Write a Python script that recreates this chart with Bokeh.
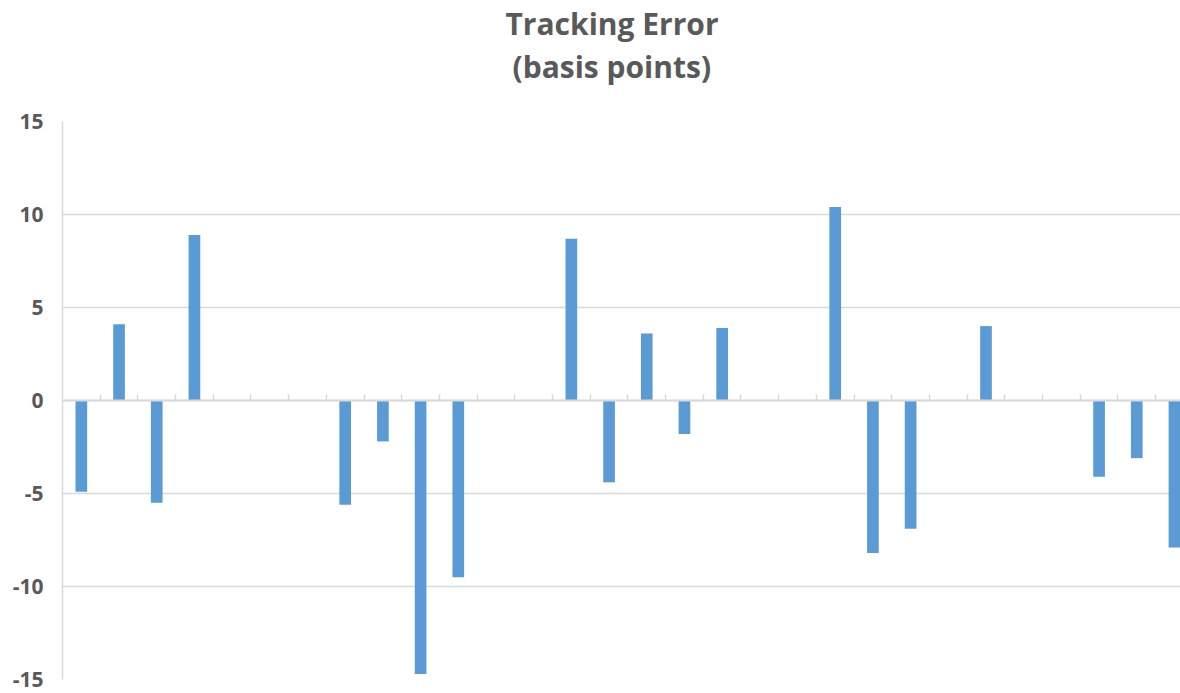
from bokeh.plotting import figure
from bokeh.models import (LinearAxis, FixedTicker, Title, Range1d, ColumnDataSource,
                          PrintfTickFormatter)
from bokeh.embed import file_html
from bokeh.resources import INLINE

categories = list(range(1, 31))
values = [-4.9, 4.1, -5.5, 8.9, 0, 0, 0, -5.6, -2.2, -14.7,
          -9.5, 0, 0, 8.7, -4.4, 3.6, -1.8, 3.9, 0, 0,
          10.4, -8.2, -6.9, 0, 4.0, 0, 0, -4.1, -3.1, -7.9]
y_ticks = [-15, -10, -5, 0, 5, 10, 15]
title_lines = ["Tracking Error", "(basis points)"]

FONT = "Open Sans"
GREY = "#595959"
LINE = "#d9d9d9"
W, H = 1180, 693

src = ColumnDataSource(dict(x=[i + 0.5 for i in range(len(categories))], v=values))

p = figure(width=W, height=H, output_backend="svg", toolbar_location=None,
           x_axis_type=None, title=None,
           x_range=Range1d(0, 29.66), y_range=Range1d(-15, 15))
p.min_border_left = 62
p.min_border_right = 0
p.min_border_bottom = 14
p.min_border_top = 120
p.outline_line_color = None
p.background_fill_color = "white"
p.border_fill_color = "white"

p.vbar(x="x", top="v", bottom=0, width=0.31, source=src,
       fill_color="#5B9BD5", line_color=None)

yax = p.yaxis[0]
yax.ticker = FixedTicker(ticks=y_ticks)
yax.formatter = PrintfTickFormatter(format="%d")
yax.axis_line_color = LINE
yax.axis_line_width = 1.5
yax.major_tick_line_color = None
yax.minor_tick_line_color = None
yax.major_label_text_font = FONT
yax.major_label_text_font_style = "bold"
yax.major_label_text_font_size = "21px"
yax.major_label_text_color = GREY
yax.major_label_standoff = 13

p.ygrid.grid_line_color = LINE
p.ygrid.grid_line_width = 1.5
p.ygrid.ticker = FixedTicker(ticks=y_ticks)
p.xgrid.grid_line_color = None

xax = LinearAxis(fixed_location=0,
                 ticker=FixedTicker(ticks=list(range(1, len(categories)))))
xax.axis_line_color = LINE
xax.axis_line_width = 2
xax.major_tick_line_color = LINE
xax.major_tick_line_width = 1.5
xax.major_tick_in = 6
xax.major_tick_out = 0
xax.minor_tick_line_color = None
xax.major_label_text_font_size = "0px"
xax.major_label_standoff = 0
xax.major_label_text_color = None
p.add_layout(xax, "below")

# spacer between the title block and the plot frame
p.add_layout(Title(text=" ", text_font_size="1px", standoff=32), "above")
p.add_layout(Title(text=title_lines[1], align="left", offset=450,
                   text_font=FONT, text_font_style="bold",
                   text_font_size="30px", text_color=GREY, standoff=0), "above")
p.add_layout(Title(text=title_lines[0], align="left", offset=443,
                   text_font=FONT, text_font_style="bold",
                   text_font_size="30px", text_color=GREY, standoff=0), "above")

open("out.html", "w").write(file_html(p, INLINE))
